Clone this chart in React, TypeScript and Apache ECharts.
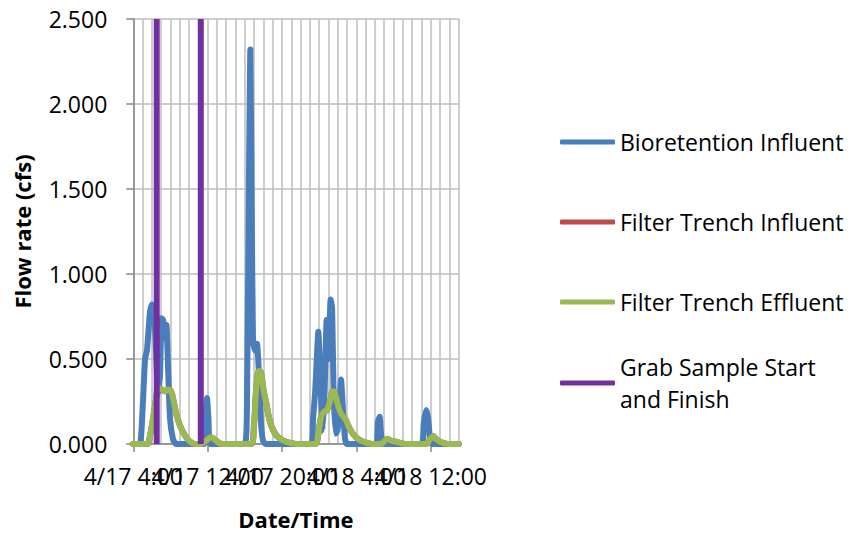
import React, { useEffect, useRef } from "react";
import * as echarts from "echarts";

// x values are hours after 4/17 4:00
const xLabelHours = [0, 8, 16, 24, 32];
const xLabelTexts = ["4/17 4:00", "4/17 12:00", "4/17 20:00", "4/18 4:00", "4/18 12:00"];

const seriesNames = [
  "Bioretention Influent",
  "Filter Trench Influent",
  "Filter Trench Effluent",
  "Grab Sample Start and Finish",
];

const bioretentionInfluent: [number, number][] = [
  [0, 0], [0.72, 0], [1.04, 0.25], [1.26, 0.5], [1.47, 0.55], [1.8, 0.78], [2.01, 0.82],
  [2.23, 0.8], [2.44, 0.55], [2.66, 0.3], [2.87, 0.4], [3.04, 0.74], [3.2, 0.73],
  [3.41, 0.62], [3.57, 0.7], [3.74, 0.45], [3.95, 0.15], [4.27, 0.03], [4.6, 0],
  [7.61, 0], [7.77, 0.15], [7.93, 0.27], [8.09, 0.15], [8.31, 0],
  [12.0, 0], [12.24, 0.3], [12.45, 1.6], [12.59, 2.32], [12.74, 1.4], [12.88, 0.6],
  [13.1, 0.55], [13.31, 0.59], [13.53, 0.4], [13.74, 0.12], [13.96, 0.02], [14.2, 0],
  [19.13, 0], [19.34, 0.15], [19.56, 0.3], [19.91, 0.66], [20.15, 0.35], [20.37, 0.08],
  [20.58, 0.3], [20.8, 0.73], [21.01, 0.5], [21.23, 0.85], [21.39, 0.8], [21.55, 0.3],
  [21.76, 0.06], [21.98, 0.08], [22.14, 0.2], [22.35, 0.38], [22.56, 0.2], [22.78, 0.03],
  [22.99, 0],
  [26.11, 0], [26.32, 0.13], [26.5, 0.16], [26.67, 0.05], [26.88, 0],
  [31.02, 0], [31.24, 0.12], [31.51, 0.2], [31.72, 0.15], [31.94, 0.02], [32.15, 0],
  [35, 0],
];

const filterTrenchInfluent: [number, number][] = [
  [0, 0], [1.44, 0], [1.8, 0.05], [2.12, 0.15], [2.44, 0.26], [2.71, 0.33], [3.09, 0.32],
  [3.41, 0.31], [3.74, 0.32], [4.06, 0.31], [4.38, 0.24], [4.7, 0.16], [5.02, 0.11],
  [5.45, 0.06], [5.99, 0.02], [6.64, 0], [7.29, 0], [7.83, 0.02], [8.36, 0.04],
  [8.9, 0.02], [9.54, 0], [12.67, 0], [12.99, 0.12], [13.26, 0.35], [13.53, 0.43],
  [13.74, 0.42], [14.01, 0.32], [14.34, 0.23], [14.71, 0.13], [15.15, 0.07], [15.79, 0.03],
  [16.65, 0.01], [17.51, 0], [19.56, 0], [19.88, 0.05], [20.2, 0.16], [20.52, 0.19],
  [20.84, 0.2], [21.16, 0.25], [21.48, 0.31], [21.69, 0.3], [22.01, 0.23], [22.34, 0.18],
  [22.77, 0.15], [23.2, 0.1], [23.63, 0.06], [24.17, 0.03], [24.92, 0.01], [25.68, 0],
  [26.67, 0], [26.99, 0.015], [27.31, 0.03], [27.74, 0.02], [28.5, 0.01], [29.25, 0],
  [31.51, 0], [31.94, 0.03], [32.26, 0.045], [32.58, 0.03], [33.12, 0.01], [33.87, 0],
  [35, 0],
];

const filterTrenchEffluent: [number, number][] = [
  [0, 0], [1.44, 0], [1.8, 0.05], [2.12, 0.15], [2.44, 0.26], [2.71, 0.33], [3.09, 0.32],
  [3.41, 0.31], [3.74, 0.32], [4.06, 0.31], [4.38, 0.24], [4.7, 0.16], [5.02, 0.11],
  [5.45, 0.06], [5.99, 0.02], [6.64, 0], [7.29, 0], [7.83, 0.02], [8.36, 0.04],
  [8.9, 0.02], [9.54, 0], [12.67, 0], [12.99, 0.12], [13.26, 0.35], [13.53, 0.43],
  [13.74, 0.42], [14.01, 0.32], [14.34, 0.23], [14.71, 0.13], [15.15, 0.07], [15.79, 0.03],
  [16.65, 0.01], [17.51, 0], [19.56, 0], [19.88, 0.05], [20.2, 0.16], [20.52, 0.19],
  [20.84, 0.2], [21.16, 0.25], [21.48, 0.31], [21.69, 0.3], [22.01, 0.23], [22.34, 0.18],
  [22.77, 0.15], [23.2, 0.1], [23.63, 0.06], [24.17, 0.03], [24.92, 0.01], [25.68, 0],
  [26.67, 0], [26.99, 0.015], [27.31, 0.03], [27.74, 0.02], [28.5, 0.01], [29.25, 0],
  [31.51, 0], [31.94, 0.03], [32.26, 0.045], [32.58, 0.03], [33.12, 0.01], [33.87, 0],
  [35, 0],
];

// grab sample start / finish: vertical markers (null breaks the line)
const grabSampleHours = [2.52, 2.52, 2.52, 7.26, 7.26];
const grabSampleFlow: (number | null)[] = [0, 2.5, null, 2.5, 0];

const FONT = "'Open Sans', 'DejaVu Sans', sans-serif";

export default function App() {
  const ref = useRef<HTMLDivElement>(null);

  useEffect(() => {
    if (!ref.current) return;
    const chart = echarts.init(ref.current, undefined, { renderer: "svg" });

    const grabData = grabSampleHours.map((h, i) => [h, grabSampleFlow[i] === null ? "-" : grabSampleFlow[i]]);

    const lineSeries = (name: string, data: any[], color: string, smooth: number | boolean, cap: string) => ({
      name,
      type: "line",
      xAxisIndex: 0,
      data,
      symbol: "none",
      smooth,
      clip: false,
      connectNulls: false,
      color,
      lineStyle: { color, width: 6, cap, join: "round" },
      emphasis: { disabled: true },
    });

    const axisGray = "#868686";
    const gridGray = "#bcbcbc";
    const labelFormatter = (v: number) => {
      const i = xLabelHours.indexOf(Math.round(v));
      return i >= 0 ? xLabelTexts[i] : "";
    };
    const labelAxis = (values: number[], withTicks: boolean, withName: boolean) => ({
      type: "value",
      min: 0,
      max: 35,
      interval: 8,
      position: "bottom",
      offset: 0,
      name: withName ? "Date/Time" : "",
      nameLocation: "middle",
      nameGap: 64,
      nameTextStyle: { fontFamily: FONT, fontSize: 22, fontWeight: "bold", color: "#000" },
      axisLine: { show: false },
      axisTick: {
        show: withTicks,
        inside: false,
        length: 8,
        customValues: xLabelHours,
        lineStyle: { color: axisGray, width: 1.5 },
      },
      axisLabel: {
        customValues: values,
        showMinLabel: true,
        showMaxLabel: true,
        hideOverlap: false,
        formatter: labelFormatter,
        margin: 20,
        fontFamily: FONT,
        fontSize: 23,
        color: "#000",
      },
      splitLine: { show: false },
    });

    const option: any = {
      animation: false,
      backgroundColor: "#ffffff",
      textStyle: { fontFamily: FONT },
      grid: { left: 133.3, right: 394.4, top: 19, bottom: 92, containLabel: false },
      xAxis: [
        {
          type: "value",
          min: 0,
          max: 35,
          interval: 1,
          position: "bottom",
          axisLine: { show: true, lineStyle: { color: axisGray, width: 1.5 } },
          axisTick: { show: false },
          axisLabel: { show: false },
          splitLine: { show: true, lineStyle: { color: gridGray, width: 1.5 } },
        },
        labelAxis([0, 16, 32], true, true),
        labelAxis([8, 24], false, false),
      ],
      yAxis: {
        type: "value",
        min: 0,
        max: 2.5,
        interval: 0.5,
        name: "Flow rate (cfs)",
        nameLocation: "middle",
        nameGap: 100,
        nameTextStyle: { fontFamily: FONT, fontSize: 22, fontWeight: "bold", color: "#000" },
        axisLine: { show: true, lineStyle: { color: axisGray, width: 1.5 } },
        axisTick: { show: true, inside: false, length: 7, lineStyle: { color: axisGray, width: 1.5 } },
        axisLabel: {
          formatter: (v: number) => v.toFixed(3),
          margin: 26,
          fontFamily: FONT,
          fontSize: 23,
          color: "#000",
        },
        splitLine: { show: true, lineStyle: { color: gridGray, width: 1.5 } },
      },
      legend: [
        {
          data: seriesNames.slice(0, 3),
          orient: "vertical",
          left: 560,
          top: 126,
          padding: 0,
          itemWidth: 55,
          itemHeight: 5,
          itemGap: 48,
          icon: "roundRect",
          itemStyle: { borderWidth: 0 },
          selectedMode: false,
          textStyle: { fontFamily: FONT, fontSize: 23, color: "#000", lineHeight: 32 },
        },
        {
          data: [{ name: seriesNames[3], textStyle: { padding: [32, 0, 0, 0] } }],
          formatter: () => "Grab Sample Start\nand Finish",
          orient: "vertical",
          left: 560,
          top: 335,
          padding: 0,
          itemWidth: 55,
          itemHeight: 5,
          icon: "roundRect",
          itemStyle: { borderWidth: 0 },
          selectedMode: false,
          textStyle: { fontFamily: FONT, fontSize: 23, color: "#000", lineHeight: 32 },
        },
      ],
      series: [
        lineSeries(seriesNames[0], bioretentionInfluent, "#4a7ebb", 0.15, "round"),
        lineSeries(seriesNames[1], filterTrenchInfluent, "#be4b48", 0.4, "round"),
        lineSeries(seriesNames[2], filterTrenchEffluent, "#98b954", 0.4, "round"),
        lineSeries(seriesNames[3], grabData, "#7030a0", false, "butt"),
      ],
    };

    chart.setOption(option);
    return () => chart.dispose();
  }, []);

  return (
    <div
      ref={ref}
      style={{ position: "absolute", left: 0, top: 0, width: 853, height: 536, background: "#fff" }}
    />
  );
}
